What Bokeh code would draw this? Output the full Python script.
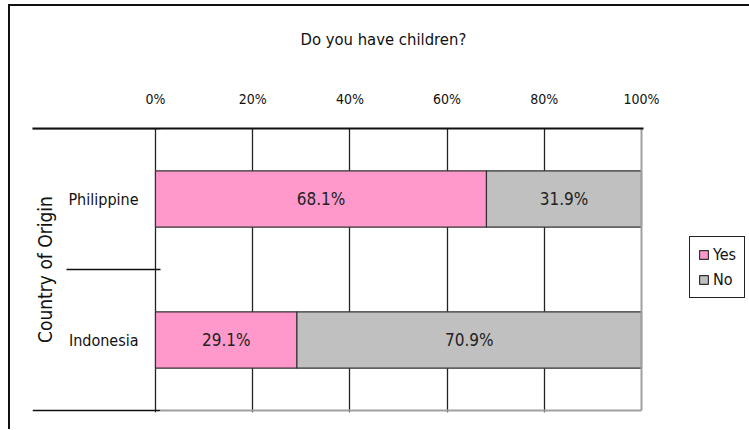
import math
from bokeh.plotting import figure
from bokeh.models import Range1d, FixedTicker, Legend, LegendItem, ColumnDataSource
from bokeh.embed import file_html
from bokeh.resources import INLINE
from bokeh.core.properties import value

# ---- data ----
countries = ["Philippine", "Indonesia"]
yes = [68.1, 29.1]
no = [31.9, 70.9]
series = ["Yes", "No"]
colors = ["#FF99CC", "#C0C0C0"]
x_ticks = [0, 20, 40, 60, 80, 100]
x_tick_labels = ["0%", "20%", "40%", "60%", "80%", "100%"]
title_text = "Do you have children?"
y_title = "Country of Origin"

# ---- layout constants (pixels) ----
FONT = "DejaVu Sans Condensed, DejaVu Sans, sans-serif"
LABEL_COL_PX = 123                   # category column left of the 0% line
PLOT_W_PX, PLOT_H_PX = 486, 282      # 0%..100% width, category band height
EDGE_PAD_PX = 2                      # keeps the border lines from being clipped
PX_PER_X = PLOT_W_PX / (x_ticks[-1] - x_ticks[0])
PX_PER_Y = PLOT_H_PX / len(countries)
X_START = x_ticks[0] - LABEL_COL_PX / PX_PER_X
X_END = x_ticks[-1] + EDGE_PAD_PX / PX_PER_X
MID_START = x_ticks[0] - 89 / PX_PER_X      # middle separator is shorter
TICK_IN = 5 / PX_PER_X
TITLE_X = X_START + 12 / PX_PER_X           # centre of the vertical axis title

ypos = [i + 0.5 for i in range(len(countries))]
bounds = list(range(len(countries) + 1))
src = ColumnDataSource(dict(
    y=ypos, country=countries, Yes=yes, No=no,
    zero=[x_ticks[0]] * len(countries),
    yes_mid=[v / 2 for v in yes],
    no_mid=[a + b / 2 for a, b in zip(yes, no)],
    yes_lab=[f"{v:.1f}%" for v in yes],
    no_lab=[f"{v:.1f}%" for v in no],
))

p = figure(frame_width=LABEL_COL_PX + PLOT_W_PX + EDGE_PAD_PX,
           frame_height=PLOT_H_PX + EDGE_PAD_PX,
           x_range=Range1d(X_START, X_END),
           y_range=Range1d(len(countries) + EDGE_PAD_PX / PX_PER_Y, 0),
           output_backend="svg", toolbar_location=None,
           x_axis_location="above", y_axis_location=None,
           min_border_left=32, min_border_right=103,
           min_border_top=128, min_border_bottom=17,
           title=title_text + "\n")
p.styles = {"box-shadow": "inset 8px 4px 0 0 #ffffff, inset 10px 6px 0 0 #111111"}
p.background_fill_color = "white"
p.border_fill_alpha = 0
p.outline_line_color = None

# bars
rs = p.hbar_stack(series, y="y", height=0.4, fill_color=colors,
                  line_color="#333333", line_width=1.2, source=src)

# value labels
for xcol, tcol in (("yes_mid", "yes_lab"), ("no_mid", "no_lab")):
    p.text(x=xcol, y="y", text=tcol, source=src, text_align="center",
           text_baseline="middle", text_font=value(FONT),
           text_font_size="17px", text_color="#222222")

# category labels
p.text(x="zero", y="y", text="country", source=src, x_offset=-17,
       text_align="right", text_baseline="middle", text_font=value(FONT),
       text_font_size="16px", text_color="#111111")

# axis title (vertical)
p.text(x=[TITLE_X], y=[len(countries) / 2], text=[y_title], angle=math.pi / 2,
       text_align="center", text_baseline="middle", text_font=value(FONT),
       text_font_size="19px", text_color="#111111")

# separators and plot-area border
p.segment(x0=[X_START, MID_START, X_START], y0=bounds,
          x1=[x_ticks[0] + TICK_IN] * len(bounds), y1=bounds,
          line_color="#111111", line_width=1.5)
p.segment(x0=[x_ticks[0] + TICK_IN, x_ticks[-1]], y0=[bounds[-1], bounds[0]],
          x1=[x_ticks[-1], x_ticks[-1]], y1=[bounds[-1], bounds[-1]],
          line_color="#A0A0A0", line_width=2)

# title
p.title.text_font = FONT
p.title.text_font_size = "16.5px"
p.title.text_font_style = "normal"
p.title.text_color = "#111111"
p.title.align = "left"
p.title.offset = 268
p.title.standoff = 40

# x axis (top)
xa = p.xaxis[0]
xa.ticker = FixedTicker(ticks=x_ticks)
xa.major_label_overrides = dict(zip(x_ticks, x_tick_labels))
xa.major_tick_out = 0
xa.major_tick_in = 0
xa.minor_tick_out = 0
xa.minor_tick_in = 0
xa.axis_line_color = "#111111"
xa.axis_line_width = 2
xa.major_label_standoff = 22
xa.major_label_text_font = FONT
xa.major_label_text_font_size = "14px"
xa.major_label_text_color = "#111111"

# grid
p.ygrid.visible = False
p.xgrid.ticker = FixedTicker(ticks=x_ticks[:-1])
p.xgrid.grid_line_color = "#222222"
p.xgrid.grid_line_width = 1.3

# legend
legend = Legend(items=[LegendItem(label=s, renderers=[r]) for s, r in zip(series, rs)],
                location=(46, 114), margin=0, padding=8, spacing=6,
                glyph_width=11, glyph_height=11, label_standoff=4,
                label_height=19, label_text_font=FONT, label_text_font_size="16px",
                label_text_color="#111111", border_line_color="#222222",
                border_line_alpha=1.0, border_line_width=1.2,
                background_fill_color="white", background_fill_alpha=1.0)
p.add_layout(legend, "right")

open("out.html", "w").write(file_html(p, INLINE))
